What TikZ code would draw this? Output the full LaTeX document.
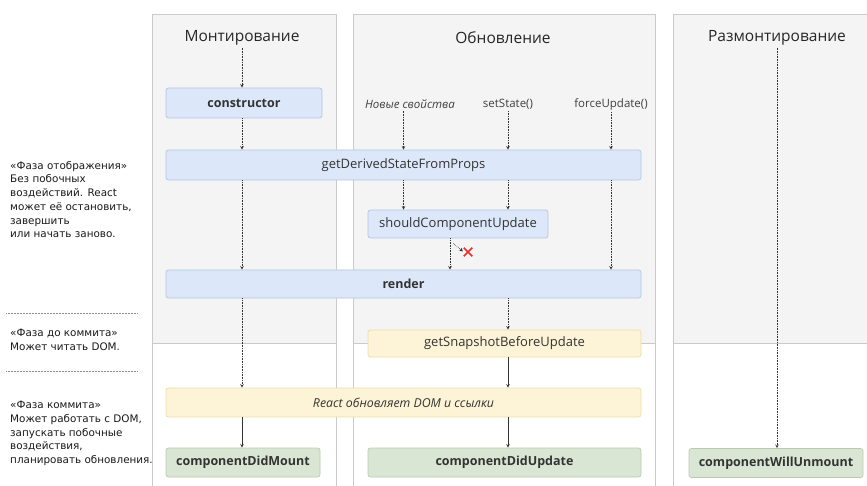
\documentclass[tikz,border=0pt]{standalone}
\usepackage{fontspec}
\setmainfont{Open Sans}
\newfontfamily\sidefont{DejaVu Sans}
\usetikzlibrary{arrows,positioning,calc,shapes.misc}
\definecolor{panelgray}{HTML}{F4F4F4}
\definecolor{panelline}{HTML}{CACACA}
\definecolor{bluefill}{HTML}{DCE8FA}
\definecolor{blueline}{HTML}{B3C5E3}
\definecolor{yellowfill}{HTML}{FDF3D6}
\definecolor{yellowline}{HTML}{EEDDA8}
\definecolor{greenfill}{HTML}{DAE6D4}
\definecolor{greenline}{HTML}{B7CAAE}
\definecolor{inkgray}{HTML}{333333}
\definecolor{stopred}{HTML}{E8302A}

\begin{document}
\begin{tikzpicture}[
        x=1pt, y=-1pt,
        font=\fontsize{13}{15}\selectfont,
        % Estilos
        panel/.style={fill=panelgray},
        border/.style={draw=panelline, line width=0.8pt},
        title/.style={font=\fontsize{15.5}{18}\selectfont, text=black!85, inner sep=2pt},
        trigger/.style={font=\fontsize{11.5}{13}\selectfont, text=black!75, inner sep=2pt},
        side/.style={font=\sidefont\fontsize{10.4}{13.7}\selectfont, text=black!90, align=left, anchor=north west, inner sep=0pt},
        base/.style={rectangle, rounded corners=2.5pt, line width=0.7pt, align=center, inner sep=0pt, text=black!80},
        heavy/.style={font=\fontsize{12.5}{15}\selectfont\bfseries},
        hook/.style={base, fill=bluefill, draw=blueline},
        snap/.style={base, fill=yellowfill, draw=yellowline},
        done/.style={base, heavy, fill=greenfill, draw=greenline},
        wide/.style={minimum width=475pt},
        dotarrow/.style={->, >=stealth, densely dotted, line width=0.6pt, draw=inkgray},
        arrow/.style={->, >=stealth, line width=0.6pt, draw=inkgray},
        sep/.style={densely dotted, line width=0.5pt, draw=black!45}
    ]
    \useasboundingbox (0,0) rectangle (867,486);

    % Columnas de fondo
    \foreach \l/\r in {152/336, 353/655, 673/890} {
        \fill[panel] (\l,14) rectangle (\r,343);
        \draw[border] (\l,490) -- (\l,14) -- (\r,14) -- (\r,490);
        \draw[border] (\l,343) -- (\r,343);
    }

    % Texto lateral
    \node[side] (renderPhase) at (10,161) {«Фаза отображения»\\Без побочных\\воздействий. React\\может её остановить,\\завершить\\или начать заново.};
    \coordinate (sepA) at (6,313);
    \draw[sep] (sepA) -- ++(131,0);
    \node[side] (preCommit) at (10,329) {«Фаза до коммита»\\Может читать DOM.};
    \coordinate (sepB) at (6,371);
    \draw[sep] (sepB) -- ++(131,0);
    \node[side] (commitPhase) at (10,401) {«Фаза коммита»\\Может работать с DOM,\\запускать побочные\\воздействия,\\планировать обновления.};

    % Titulos
    \node[title] (tMount) at (242,38) {Монтирование};
    \node[title] (tUpdate) at (503,38) {Обновление};
    \node[title] (tUnmount) at (777,38) {Размонтирование};

    % Disparadores
    \node[trigger, font=\fontsize{11.5}{13}\selectfont\itshape] (props) at (410,104) {Новые свойства};
    \node[trigger] (state) at (508,104) {setState()};
    \node[trigger] (force) at (611,104) {forceUpdate()};

    % Metodos
    \node[hook, heavy, minimum width=156pt, minimum height=30pt] (ctor) at (244,103) {constructor};
    \node[hook, wide, minimum height=30pt] (gdsfp) at (403.5,165) {getDerivedStateFromProps};
    \node[hook, minimum width=180pt, minimum height=28pt] (scu) at (458,224) {shouldComponentUpdate};
    \node[hook, wide, heavy, minimum height=28pt] (render) at (403.5,284) {render};
    \node[snap, minimum width=273pt, minimum height=27pt] (gsbu) at (504.5,343.5) {getSnapshotBeforeUpdate};
    \node[snap, wide, minimum height=29pt, font=\fontsize{12.3}{14}\selectfont\itshape] (react) at (403.5,402.5) {React обновляет DOM и ссылки};
    \node[done, minimum width=154pt, minimum height=29pt] (cdm) at (243,462.5) {componentDidMount};
    \node[done, minimum width=273pt, minimum height=29pt] (cdu) at (504.5,462.5) {componentDidUpdate};
    \node[done, minimum width=174pt, minimum height=29pt] (cwu) at (776,463) {componentWillUnmount};

    \coordinate (scuOut) at ([xshift=-8pt]scu.south);
    \node[cross out, draw=stopred, line width=1.5pt, minimum size=7pt, inner sep=0pt] (stop) at (468,252) {};

    % ---------------- FLECHAS ---------------- %

    % Montaje
    \draw[dotarrow] (tMount.south) -- (ctor.north -| tMount.south);
    \draw[dotarrow] (ctor.south -| tMount.south) -- (tMount.south |- gdsfp.north);
    \draw[dotarrow] (tMount.south |- gdsfp.south) -- (tMount.south |- render.north);
    \draw[dotarrow] (tMount.south |- render.south) -- (tMount.south |- react.north);
    \draw[arrow] (tMount.south |- react.south) -- (tMount.south |- cdm.north);

    % Actualizacion
    \draw[dotarrow] (props.south -| gdsfp.north) -- (gdsfp.north);
    \draw[dotarrow] (state.south) -- (state.south |- gdsfp.north);
    \draw[dotarrow] (force.south) -- (force.south |- gdsfp.north);
    \draw[dotarrow] (gdsfp.south) -- (gdsfp.south |- scu.north);
    \draw[dotarrow] (state.south |- gdsfp.south) -- (state.south |- scu.north);
    \draw[dotarrow] (force.south |- gdsfp.south) -- (force.south |- render.north);
    \draw[dotarrow] (scuOut) -- (scuOut |- render.north);
    \draw[dotarrow, shorten >=1pt] ([xshift=3pt, yshift=-5pt]scuOut) -- (stop.west);
    \draw[dotarrow] (state.south |- render.south) -- (state.south |- gsbu.north);
    \draw[arrow] (state.south |- gsbu.south) -- (state.south |- react.north);
    \draw[arrow] (state.south |- react.south) -- (state.south |- cdu.north);

    % Desmontaje
    \draw[dotarrow] (tUnmount.south) -- (cwu.north -| tUnmount.south);

\end{tikzpicture}
\end{document}
